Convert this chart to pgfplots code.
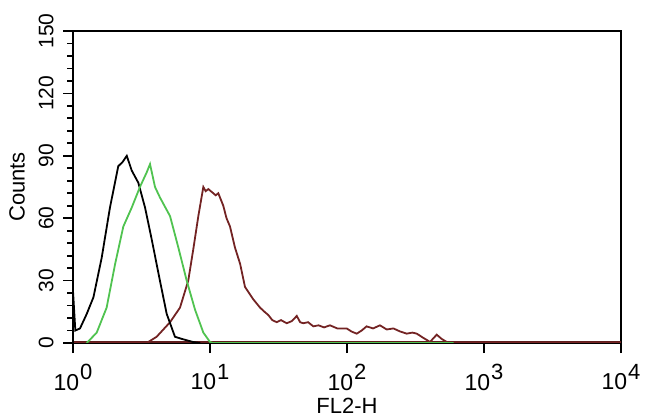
\documentclass[border=0pt]{standalone}
\usepackage{pgfplots}
\pgfplotsset{compat=1.18}
\usepackage{fontspec}
\setmainfont{Liberation Sans}
\definecolor{fgreen}{RGB}{80,195,80}
\definecolor{fbrown}{RGB}{115,35,35}
\newcommand{\tl}[1]{10\kern0.5pt\raisebox{0.45em}{\fontsize{11}{12}\selectfont #1}}
\begin{document}
\begin{tikzpicture}[x=0.5pt,y=0.5pt]
\path[use as bounding box] (-73,-75) rectangle (577,343);
\begin{axis}[
  at={(0,0)}, anchor=south west,
  scale only axis, width=274pt, height=156pt,
  xmode=log, log basis x=10,
  xmin=1, xmax=10000, ymin=0, ymax=150,
  xtick={1,10,100,1000,10000},
  xticklabels={\tl{0},\tl{1},\tl{2},\tl{3},\tl{4}},
  ytick={0,30,60,90,120,150},
  minor y tick num=4,
  /pgf/number format/assume math mode=true,
  tick align=outside,
  major tick length=5pt, minor tick length=3pt,
  xtick pos=bottom, ytick pos=left,
  tick style={black, line width=0.9pt},
  axis line style={black, line width=1pt},
  xticklabel style={font=\fontsize{11.5}{13}\selectfont, anchor=north, inner sep=1pt, yshift=-4.5pt},
  yticklabel style={font=\fontsize{10.5}{12}\selectfont, rotate=90, anchor=south, inner sep=4.5pt},
  xlabel={FL2-H}, ylabel={Counts},
  xlabel style={font=\fontsize{11}{13}\selectfont, at={(axis description cs:0.5,-0.2)}, anchor=center},
  ylabel style={font=\fontsize{11}{13}\selectfont, at={(axis description cs:-0.102,0.5)}, anchor=center},
  clip=true,
]
% baseline (zero counts)
\addplot[fbrown!85!black, line width=1.6pt] coordinates {(1,0) (10000,0)};
% brown (sample)
\addplot[fbrown, line width=0.9pt] coordinates {
(1,0) (3.45,0) (4.08,3) (5.11,10) (6.04,17) (6.94,30) (7.55,45) (8.22,61)
(8.94,75) (9.3,73) (9.72,74) (10.57,72) (11.0,71) (11.5,72) (12.5,66) (13.2,60) (14.0,56)
(15.2,46) (16.6,38) (18.0,27) (19.3,24) (20.7,21) (23.2,17) (25.0,15) (26.6,13.5)
(28.5,11) (30.7,10) (33.0,11) (36.3,9.5) (39.5,10.5) (43.0,13) (45.5,10) (48.0,9.5)
(52.0,10) (56.8,8) (62.0,8.5) (68.0,7.5) (75.1,8.5) (85.0,7) (99.5,7) (108,5.5)
(117.8,4.5) (128,6) (139,8) (155,7) (174,8.5) (195,6.5) (218,7) (245,5.5) (273,4.5)
(300,5) (323,4.5) (360,2.5) (404,0.5) (430,2.5) (452,4) (490,2) (534,0.5) (597,0) (10000,0)};
% black (isotype)
\addplot[black, line width=0.9pt] coordinates {
(1,0) (1,25) (1.04,6) (1.125,7) (1.26,14) (1.41,22) (1.62,41) (1.86,65) (2.14,85)
(2.3,87) (2.47,90) (2.68,83) (3.0,77) (3.36,65) (3.75,50) (4.31,30) (4.83,14)
(5.55,3) (6.2,2) (7.5,0.5) (8.5,0)};
% green
\addplot[fgreen, line width=0.9pt] coordinates {
(1.26,0) (1.49,5) (1.76,17) (2.03,38) (2.33,56) (2.68,65) (3.08,75) (3.45,82)
(3.65,86) (3.97,75) (4.31,70) (5.11,61) (5.87,46) (6.76,30) (7.78,16) (8.94,5)
(10,0.5) (10.5,0) (600,0)};
\end{axis}
\end{tikzpicture}
\end{document}
